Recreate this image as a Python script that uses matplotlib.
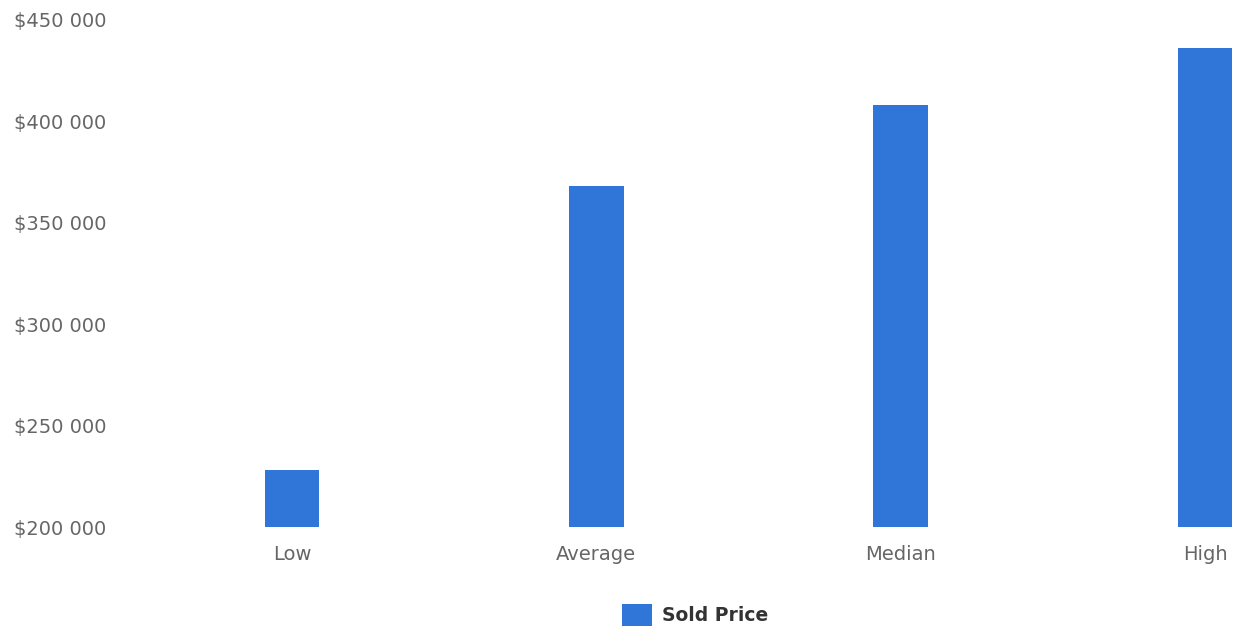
import matplotlib.pyplot as plt
from matplotlib.ticker import FuncFormatter

# Data
categories = ['Low', 'Average', 'Median', 'High']
sold_price = [228000, 368000, 408000, 436000]
y_ticks = [200000, 250000, 300000, 350000, 400000, 450000]

W, H = 1233, 628
fig = plt.figure(figsize=(W / 100, H / 100), dpi=100)

# axes placed in pixel terms: left 120px, right edge of figure, 450k at y=20, 200k at y=527
ax = fig.add_axes([120 / W, 1 - 527 / H, (W - 120) / W, (527 - 20) / H])

x = range(len(categories))
ax.bar(x, sold_price, width=0.18, color='#2f76d8', label='Sold Price', zorder=2)

ax.set_ylim(200000, 450000)
ax.set_xlim(-(292 - 120) / 304.5, 3 + (W - 1205) / 304.5)
ax.set_yticks(y_ticks)
ax.yaxis.set_major_formatter(FuncFormatter(lambda v, p: '$' + f'{int(v):,}'.replace(',', ' ')))
ax.set_xticks(list(x))
ax.set_xticklabels(categories)

ax.tick_params(axis='both', length=0, colors='#666666', labelsize=14)
ax.tick_params(axis='y', pad=10)
ax.tick_params(axis='x', pad=13)
for s in ax.spines.values():
    s.set_visible(False)

fig.legend(loc='center', bbox_to_anchor=(695 / W, 1 - 615 / H), frameon=False,
           prop={'weight': 'bold', 'size': 13.5}, handlelength=1.6, handleheight=1.4,
           handletextpad=0.5, labelcolor='#333333')

fig.savefig('out.png', dpi=100)
